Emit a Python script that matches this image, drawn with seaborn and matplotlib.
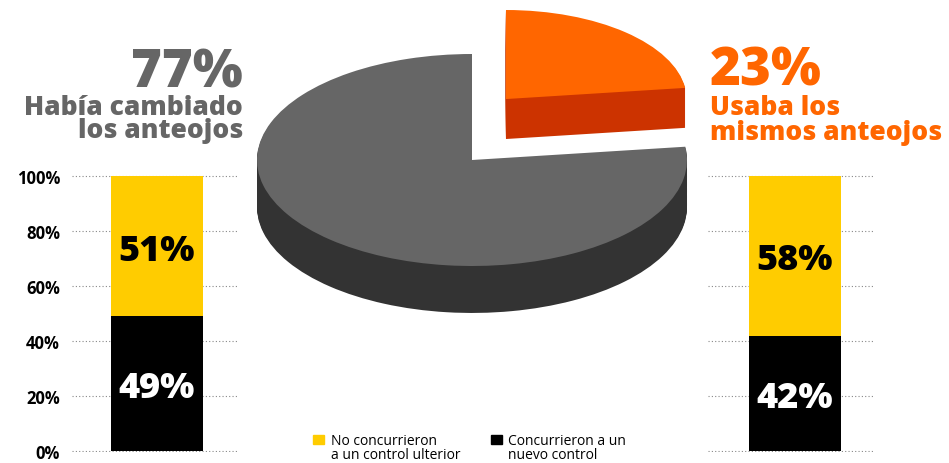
import numpy as np
import pandas as pd
import matplotlib
matplotlib.use("Agg")
import matplotlib.pyplot as plt
import seaborn as sns
from matplotlib.patches import Rectangle

# ---------------- data ----------------
pie_labels = ["Usaba los mismos anteojos", "Había cambiado los anteojos"]
pie_values = [23, 77]
bar_series = ["Concurrieron a un nuevo control", "No concurrieron a un control ulterior"]
left_values = [49, 51]    # Había cambiado los anteojos
right_values = [42, 58]   # Usaba los mismos anteojos
y_ticks = [0, 20, 40, 60, 80, 100]
y_tick_labels = ["0%", "20%", "40%", "60%", "80%", "100%"]

# ---------------- style ----------------
sns.set_style("white")
plt.rcParams['font.family'] = ['Open Sans', 'DejaVu Sans']

GREY_TOP, GREY_SIDE = "#666666", "#333333"
OR_TOP, OR_SIDE = "#FF6600", "#CC3300"
YELLOW, BLACK = "#FFCC00", "#000000"
TXT_GREY = "#666666"
HEAVY = 800

W, H = 949, 464
fig = plt.figure(figsize=(9.49, 4.64), dpi=100)


def fx(px):
    return px / W


def fy(py):
    return 1 - py / H


def box(x0, y0, x1, y1):
    return [fx(x0), fy(y1), (x1 - x0) / W, (y1 - y0) / H]


# ---------------- 3D-like pie ----------------
axp = fig.add_axes(box(240, 0, 720, 330))
wp = dict(linewidth=0, edgecolor='none')
n_layers = 40
g_depth = 0.443
o_depth = 0.377
o_center = (0.158, 0.575)
o_r = 0.84

for k in range(n_layers, 0, -1):
    off = o_depth * k / n_layers
    axp.pie(pie_values, colors=[OR_SIDE, 'none'], radius=o_r,
            center=(o_center[0], o_center[1] - off), startangle=90,
            counterclock=False, wedgeprops=wp)
axp.pie(pie_values, colors=[OR_TOP, 'none'], radius=o_r, center=o_center,
        startangle=90, counterclock=False, wedgeprops=wp)
for k in range(n_layers, 0, -1):
    off = g_depth * k / n_layers
    axp.pie(pie_values, colors=['none', GREY_SIDE], radius=1.0,
            center=(0, -off), startangle=90, counterclock=False, wedgeprops=wp)
axp.pie(pie_values, colors=['none', GREY_TOP], radius=1.0, center=(0, 0),
        startangle=90, counterclock=False, wedgeprops=wp)
axp.set_aspect('auto')
axp.set_xlim((240 - 472) / 215, (720 - 472) / 215)
axp.set_ylim((161 - 330) / 106, (161 - 0) / 106)
axp.axis('off')


# ---------------- stacked bars ----------------
def bar_panel(x0, x1, values, center_frac, show_labels):
    ax = fig.add_axes(box(x0, 177 - 1.4, x1, 452 + 1.4))
    df = pd.DataFrame({"grupo": ["g"],
                       "total": [sum(values)],
                       "concurrieron": [values[0]]})
    bw = 92 / (x1 - x0)
    sns.barplot(data=df, x="grupo", y="total", color=YELLOW, saturation=1,
                width=bw, linewidth=0, errorbar=None, ax=ax, zorder=2)
    sns.barplot(data=df, x="grupo", y="concurrieron", color=BLACK,
                saturation=1, width=bw, linewidth=0, errorbar=None, ax=ax,
                zorder=3)
    ax.set_xlim(-center_frac, 1 - center_frac)
    ax.set_ylim(-0.5, 100.5)
    ax.set_yticks(y_ticks)
    ax.yaxis.grid(True, linestyle=(0, (1, 2)), color='#888888', linewidth=0.8)
    ax.set_axisbelow(True)
    ax.set_xticks([])
    ax.set_xlabel('')
    ax.set_ylabel('')
    for s in ax.spines.values():
        s.set_visible(False)
    if show_labels:
        ax.set_yticklabels(y_tick_labels, fontweight='bold', fontsize=12,
                           color=BLACK)
        ax.tick_params(axis='y', length=0, pad=8.6)
    else:
        ax.set_yticklabels([])
        ax.tick_params(axis='y', length=0)
    cap = 9.8
    ax.text(0, values[0] / 2 - cap / 2, f"{values[0]}%", color='white',
            ha='center', va='baseline', fontsize=26, fontweight=HEAVY,
            zorder=5)
    ax.text(0, values[0] + values[1] / 2 - cap / 2, f"{values[1]}%",
            color=BLACK, ha='center', va='baseline', fontsize=26,
            fontweight=HEAVY, zorder=5)
    return ax


bar_panel(72, 237, left_values, (157 - 72) / 165, True)
bar_panel(708, 875, right_values, (795 - 708) / 167, False)

# ---------------- headers ----------------
# (va='baseline' on multi-line text anchors the last line's baseline)
fig.text(fx(243), fy(87), f"{pie_values[1]}%", ha='right', va='baseline',
         fontsize=38, fontweight=HEAVY, color=TXT_GREY)
fig.text(fx(243), fy(138), "Había cambiado\nlos anteojos", ha='right',
         va='baseline', multialignment='right', linespacing=0.85,
         fontsize=19, fontweight=HEAVY, color=TXT_GREY)

fig.text(fx(710), fy(85), f"{pie_values[0]}%", ha='left', va='baseline',
         fontsize=38, fontweight=HEAVY, color=OR_TOP)
fig.text(fx(710), fy(140), "Usaba los\nmismos anteojos", ha='left',
         va='baseline', multialignment='left', linespacing=0.96,
         fontsize=19, fontweight=HEAVY, color=OR_TOP)

# ---------------- legend ----------------
fig.patches.append(Rectangle((fx(313), fy(445)), 11 / W, 9 / H,
                             transform=fig.transFigure, color=YELLOW))
fig.text(fx(331), fy(459), "No concurrieron\na un control ulterior",
         ha='left', va='baseline', linespacing=0.88,
         fontsize=10, fontweight='medium', color=BLACK)
fig.patches.append(Rectangle((fx(491), fy(445)), 11 / W, 9 / H,
                             transform=fig.transFigure, color=BLACK))
fig.text(fx(508), fy(459), "Concurrieron a un\nnuevo control",
         ha='left', va='baseline', linespacing=0.88,
         fontsize=10, fontweight='medium', color=BLACK)

fig.savefig("out.png", dpi=100)
